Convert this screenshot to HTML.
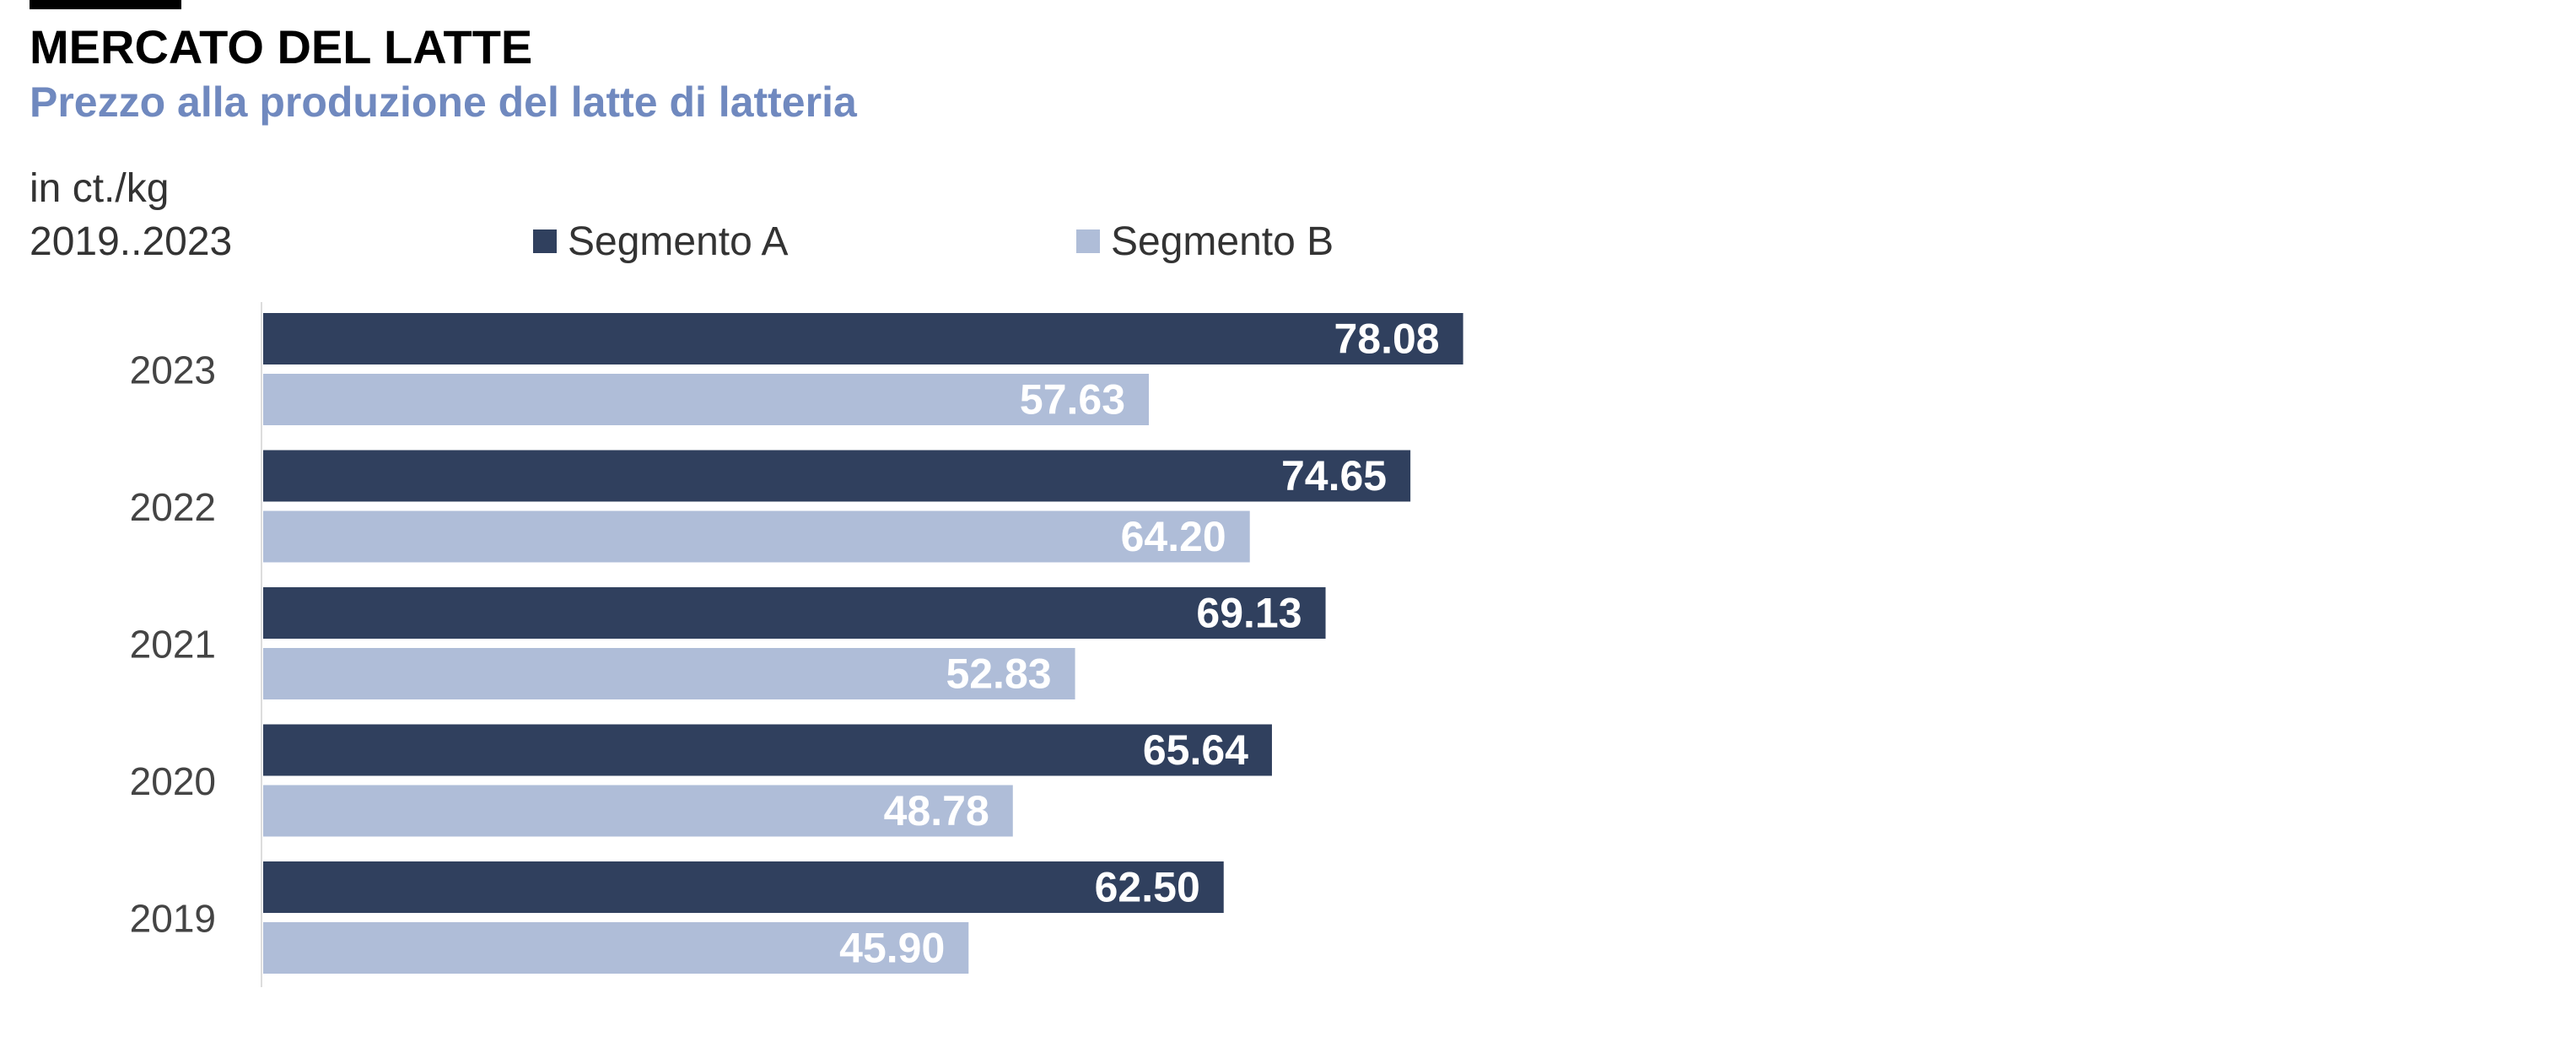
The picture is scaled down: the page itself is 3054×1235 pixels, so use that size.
<!DOCTYPE html>
<html><head><meta charset="utf-8"><style>
body{margin:0;background:#fff;width:3054px;height:1230px;overflow:hidden;font-family:"Liberation Sans",sans-serif;}
</style></head><body>
<svg width="3054" height="1230" xmlns="http://www.w3.org/2000/svg">
<rect x="35" y="0" width="180" height="11" fill="#000"/>
<text x="35" y="75" font-size="56" font-weight="bold" fill="#000">MERCATO DEL LATTE</text>
<text x="35" y="138" font-size="50" font-weight="bold" fill="#7089bf">Prezzo alla produzione del latte di latteria</text>
<text x="35" y="239" font-size="48" fill="#333">in ct./kg</text>
<text x="35" y="302" font-size="48" fill="#333">2019..2023</text>
<g>
<rect x="632" y="272" width="28" height="28" fill="#30405e"/>
<text x="673" y="302" font-size="48" fill="#333">Segmento A</text>
<rect x="1276" y="272" width="28" height="28" fill="#afbdd8"/>
<text x="1317" y="302" font-size="48" fill="#333">Segmento B</text>
</g>
<line x1="310" y1="358" x2="310" y2="1170" stroke="#ddd" stroke-width="2"/>
<g id="bars"></g>
</svg>
<script>
const categories = ["2023","2022","2021","2020","2019"];
const seriesA = [78.08,74.65,69.13,65.64,62.50];
const seriesB = [57.63,64.20,52.83,48.78,45.90];
const x0 = 312, pxPerUnit = 18.22, top0 = 371, pitch = 162.5, barH = 61, gapB = 72;
function xScale(v){return x0 + v*pxPerUnit;}
function yBand(i){return top0 + i*pitch;}
const g = document.getElementById('bars');
const NS = "http://www.w3.org/2000/svg";
categories.forEach((c,i)=>{
  const y = yBand(i);
  const lab = document.createElementNS(NS,'text');
  lab.setAttribute('x',256); lab.setAttribute('y',y+gapB/2+barH/2+17);
  lab.setAttribute('text-anchor','end'); lab.setAttribute('font-size','46'); lab.setAttribute('fill','#444');
  lab.textContent = c;
  
  
  g.appendChild(lab);
  [[seriesA[i],'#30405e',0,'a'],[seriesB[i],'#afbdd8',gapB,'b']].forEach(([v,col,off,s])=>{
    const r = document.createElementNS(NS,'rect');
    r.setAttribute('x',x0); r.setAttribute('y',y+off);
    r.setAttribute('width',xScale(v)-x0); r.setAttribute('height',barH); r.setAttribute('fill',col);
    
    
    g.appendChild(r);
    const t = document.createElementNS(NS,'text');
    t.setAttribute('x',xScale(v)-28); t.setAttribute('y',y+off+barH/2+17);
    t.setAttribute('text-anchor','end'); t.setAttribute('font-size','50'); t.setAttribute('font-weight','bold'); t.setAttribute('fill','#fff');
    t.textContent = v.toFixed(2);
    
    
    g.appendChild(t);
  });
});
</script>
</body></html>
